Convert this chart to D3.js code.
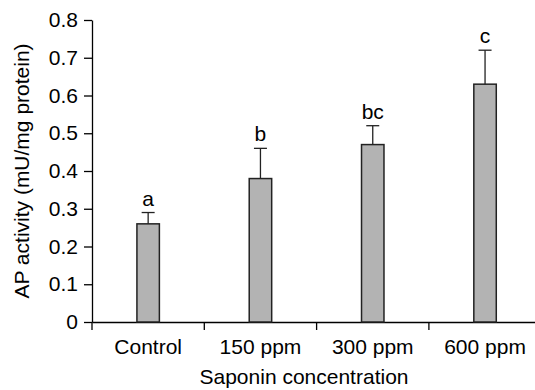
<!DOCTYPE html>
<html>
<head>
<meta charset="utf-8">
<script src="https://cdn.jsdelivr.net/npm/d3@7"></script>
<style>
  body { margin: 0; background: #fff; }
  text { font-family: "Liberation Sans", Arial, sans-serif; fill: #000; }
  .axis path, .axis line { stroke: #000; stroke-width: 1.3; }
</style>
</head>
<body>
<div id="chart"></div>
<script>
// data
var categories = ['Control', '150 ppm', '300 ppm', '600 ppm'];
var means = [0.26, 0.38, 0.47, 0.63];
var errors = [0.03, 0.08, 0.05, 0.09];
var letters = ['a', 'b', 'bc', 'c'];
var yTicks = [0, 0.1, 0.2, 0.3, 0.4, 0.5, 0.6, 0.7, 0.8];
var yTickLabels = ['0', '0.1', '0.2', '0.3', '0.4', '0.5', '0.6', '0.7', '0.8'];

var w = 535, h = 390;
var margin = { top: 20, left: 92, bottom: 68 },
    step = 112.3,
    plotBottom = h - margin.bottom;

function translation(x, y) {
  return 'translate(' + x + ',' + y + ')';
}

var svg = d3.select('#chart').append('svg')
  .attr('width', w)
  .attr('height', h);

var x = d3.scaleBand()
  .domain(categories)
  .range([margin.left, margin.left + step * categories.length]);

var y = d3.scaleLinear()
  .domain([0, 0.8])
  .range([plotBottom, margin.top]);

// y axis
var yAxis = d3.axisLeft(y)
  .tickValues(yTicks)
  .tickSize(8)
  .tickSizeOuter(0)
  .tickPadding(6)
  .tickFormat(function(d, i) { return yTickLabels[i]; });

svg.append('g')
  .attr('class', 'axis y')
  .attr('transform', translation(margin.left, 0))
  .call(yAxis)
  .selectAll('text')
  .style('font-size', '21px');

// x axis: labels centred in bands, ticks between bands
var xAxis = d3.axisBottom(x)
  .tickSize(0)
  .tickSizeOuter(0)
  .tickPadding(17);

var gx = svg.append('g')
  .attr('class', 'axis x')
  .attr('transform', translation(0, plotBottom))
  .call(xAxis);
gx.selectAll('text').style('font-size', '21px');

gx.selectAll('.sep')
  .data(categories)
  .enter().append('line')
    .attr('class', 'sep')
    .attr('x1', function(d) { return x(d); })
    .attr('x2', function(d) { return x(d); })
    .attr('y1', 0)
    .attr('y2', 8);

// bars
var barW = x.bandwidth() * 0.2;
var idx = d3.range(categories.length);

svg.selectAll('.bar')
  .data(idx)
  .enter().append('rect')
    .attr('class', 'bar')
    .attr('x', function(i) { return x(categories[i]) + x.bandwidth() / 2 - barW / 2; })
    .attr('y', function(i) { return y(means[i]); })
    .attr('width', barW)
    .attr('height', function(i) { return y(0) - y(means[i]); })
    .attr('fill', '#b3b3b3')
    .attr('stroke', '#222')
    .attr('stroke-width', 1.5);

// error bars (upper only)
var cx = function(i) { return x(categories[i]) + x.bandwidth() / 2; };

svg.selectAll('.err')
  .data(idx)
  .enter().append('line')
    .attr('class', 'err')
    .attr('x1', cx).attr('x2', cx)
    .attr('y1', function(i) { return y(means[i]); })
    .attr('y2', function(i) { return y(means[i] + errors[i]); })
    .attr('stroke', '#222')
    .attr('stroke-width', 1.3);

svg.selectAll('.cap')
  .data(idx)
  .enter().append('line')
    .attr('class', 'cap')
    .attr('x1', function(i) { return cx(i) - 6.5; })
    .attr('x2', function(i) { return cx(i) + 6.5; })
    .attr('y1', function(i) { return y(means[i] + errors[i]); })
    .attr('y2', function(i) { return y(means[i] + errors[i]); })
    .attr('stroke', '#222')
    .attr('stroke-width', 1.3);

// significance letters
svg.selectAll('.letter')
  .data(idx)
  .enter().append('text')
    .attr('class', 'letter')
    .attr('x', cx)
    .attr('y', function(i) { return y(means[i] + errors[i]) - 7; })
    .attr('text-anchor', 'middle')
    .style('font-size', '21px')
    .text(function(i) { return letters[i]; });

// axis titles
svg.append('text')
  .attr('transform', translation(29, (margin.top + plotBottom) / 2) + 'rotate(-90)')
  .attr('text-anchor', 'middle')
  .style('font-size', '21px')
  .text('AP activity (mU/mg protein)');

svg.append('text')
  .attr('x', 304)
  .attr('y', 384)
  .attr('text-anchor', 'middle')
  .style('font-size', '21px')
  .text('Saponin concentration');
</script>
</body>
</html>
